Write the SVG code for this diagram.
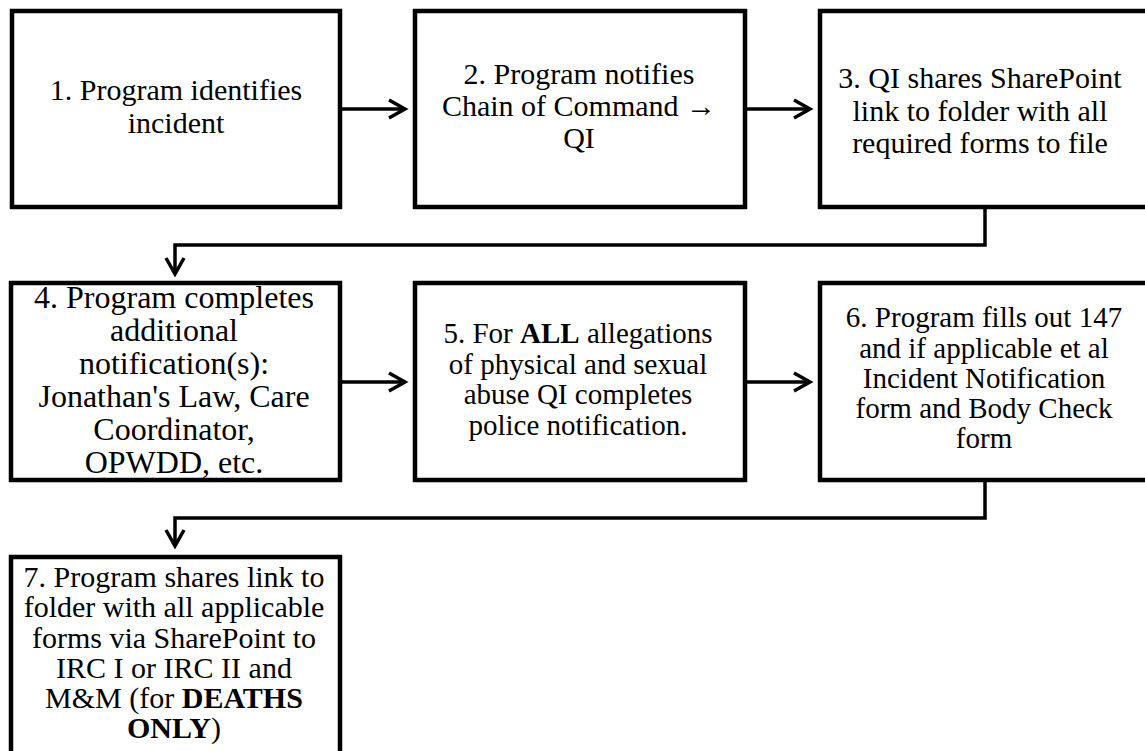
<svg xmlns="http://www.w3.org/2000/svg" width="1145" height="751" viewBox="0 0 1145 751">
  <style>
    .box { fill: #fff; stroke: #000; stroke-width: 4.5; }
    .t { font-family: "Liberation Serif", "Times New Roman", serif; font-size: 30px; text-anchor: middle; fill: #000; }
    .t4 { font-size: 32px; }
    .t56 { font-size: 29px; }
    .b { font-weight: bold; }
    .conn { fill: none; stroke: #000; stroke-width: 3.5; }
  </style>
  <defs>
    <marker id="ah" markerUnits="userSpaceOnUse" markerWidth="30" markerHeight="30" viewBox="-20 -15 30 30" refX="0" refY="0" orient="auto" overflow="visible">
      <path d="M-16,-9 L0,0 L-16,9" fill="none" stroke="#000" stroke-width="3.5"/>
    </marker>
  </defs>
  <rect width="1145" height="751" fill="#fff"/>

  <g id="connectors">
    <path class="conn" d="M342,109 H405" marker-end="url(#ah)"/>
    <path class="conn" d="M747,109 H810" marker-end="url(#ah)"/>
    <path class="conn" d="M985,209 V245 H175 V274" marker-end="url(#ah)"/>
    <path class="conn" d="M342,382 H405" marker-end="url(#ah)"/>
    <path class="conn" d="M747,382 H810" marker-end="url(#ah)"/>
    <path class="conn" d="M985,482 V518 H175 V546" marker-end="url(#ah)"/>
  </g>

  <g id="node1">
    <rect class="box" x="12" y="11" width="328" height="196"/>
    <text class="t" x="176" y="100">1. Program identifies</text>
    <text class="t" x="176" y="133">incident</text>
  </g>

  <g id="node2">
    <rect class="box" x="415" y="11" width="330" height="196"/>
    <text class="t" x="579" y="84">2. Program notifies</text>
    <text class="t" x="579" y="116">Chain of Command →</text>
    <text class="t" x="579" y="148">QI</text>
  </g>

  <g id="node3">
    <rect class="box" x="820" y="11" width="330" height="196"/>
    <text class="t" x="980" y="88">3. QI shares SharePoint</text>
    <text class="t" x="980" y="121">link to folder with all</text>
    <text class="t" x="980" y="153">required forms to file</text>
  </g>

  <g id="node4">
    <rect class="box" x="11" y="283" width="329" height="197"/>
    <text class="t t4" x="174" y="308">4. Program completes</text>
    <text class="t t4" x="174" y="341">additional</text>
    <text class="t t4" x="174" y="374">notification(s):</text>
    <text class="t t4" x="174" y="407">Jonathan's Law, Care</text>
    <text class="t t4" x="174" y="440">Coordinator,</text>
    <text class="t t4" x="174" y="473">OPWDD, etc.</text>
  </g>

  <g id="node5">
    <rect class="box" x="415" y="283" width="330" height="197"/>
    <text class="t t56" x="578" y="343">5. For <tspan class="b">ALL</tspan> allegations</text>
    <text class="t t56" x="578" y="374">of physical and sexual</text>
    <text class="t t56" x="578" y="404">abuse QI completes</text>
    <text class="t t56" x="578" y="435">police notification.</text>
  </g>

  <g id="node6">
    <rect class="box" x="820" y="283" width="330" height="197"/>
    <text class="t t56" x="984" y="327">6. Program fills out 147</text>
    <text class="t t56" x="984" y="358">and if applicable et al</text>
    <text class="t t56" x="984" y="388">Incident Notification</text>
    <text class="t t56" x="984" y="418">form and Body Check</text>
    <text class="t t56" x="984" y="448">form</text>
  </g>

  <g id="node7">
    <rect class="box" x="11" y="557" width="329" height="197"/>
    <text class="t" x="174" y="587">7. Program shares link to</text>
    <text class="t" x="174" y="617">folder with all applicable</text>
    <text class="t" x="174" y="648">forms via SharePoint to</text>
    <text class="t" x="174" y="678">IRC I or IRC II and</text>
    <text class="t" x="174" y="708">M&amp;M (for <tspan class="b">DEATHS</tspan></text>
    <text class="t" x="174" y="738"><tspan class="b">ONLY</tspan>)</text>
  </g>
</svg>
